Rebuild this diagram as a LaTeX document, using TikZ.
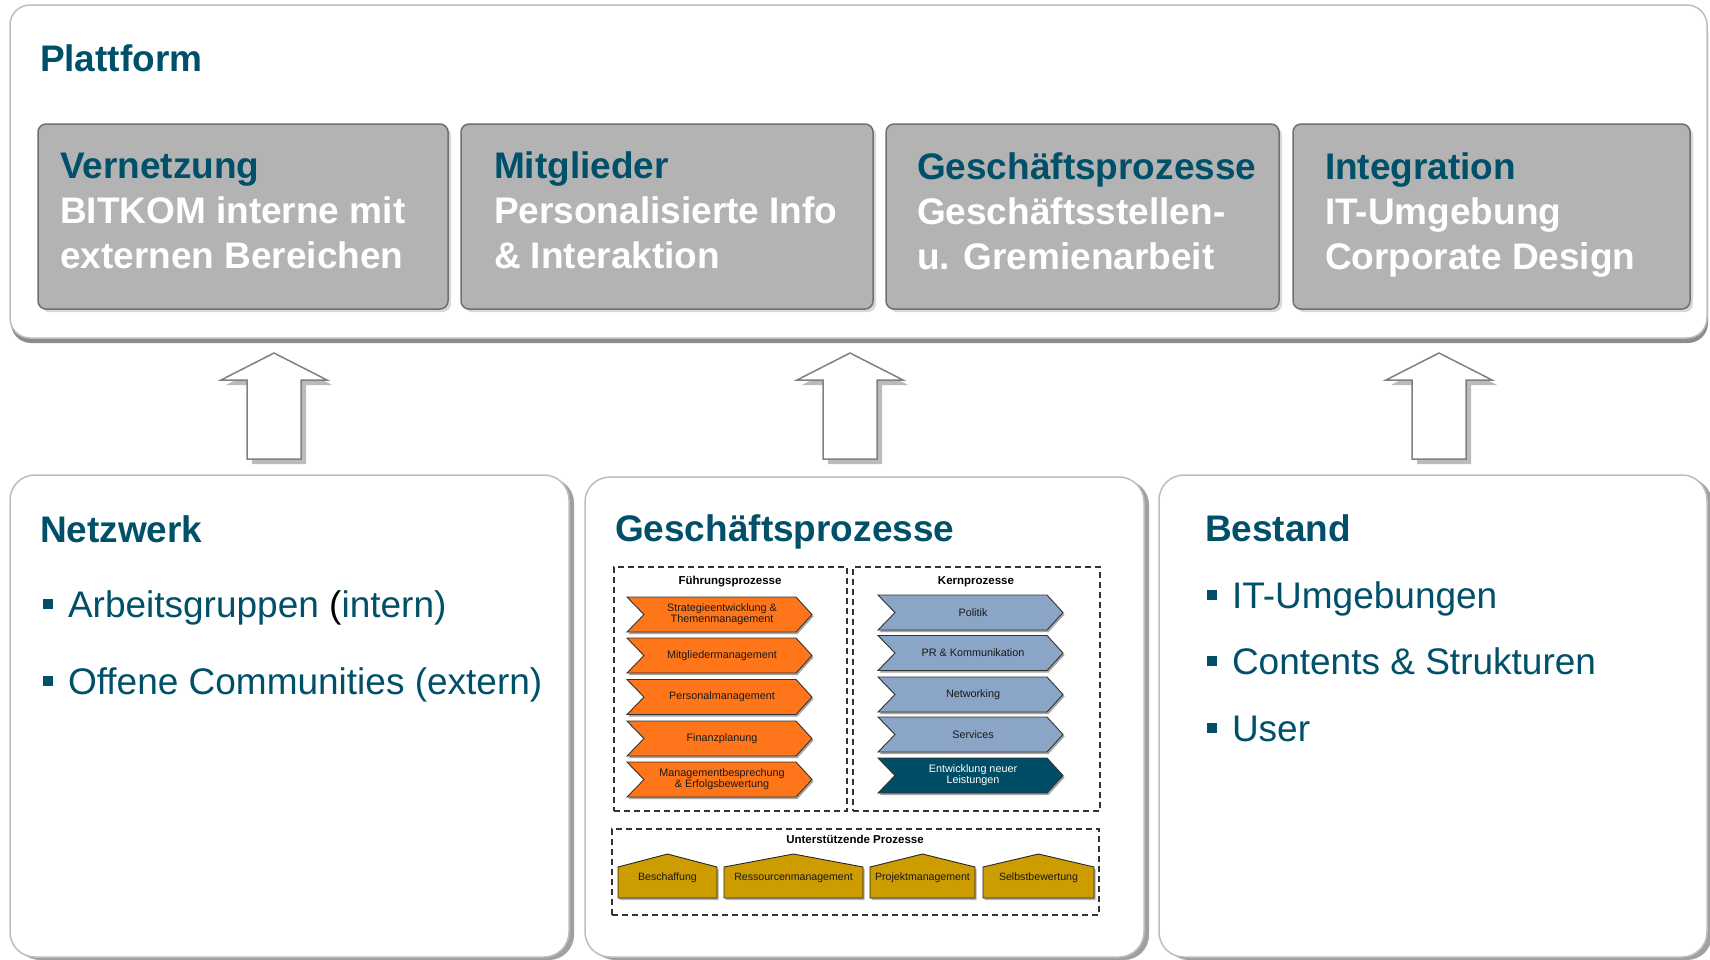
\documentclass[tikz,border=0pt]{standalone}
\usepackage{fontspec}
\setmainfont{Liberation Sans}
\usetikzlibrary{shadows}
\definecolor{tealt}{HTML}{005069}
\definecolor{orng}{HTML}{FF761A}
\definecolor{bluegr}{HTML}{8AA5C5}
\definecolor{darkteal}{HTML}{004D66}
\definecolor{goldc}{HTML}{CC9C00}
\definecolor{boxgrey}{HTML}{B3B3B3}
\definecolor{platline}{HTML}{BDBDBD}
\definecolor{platshadow}{HTML}{8C8C8C}
\definecolor{lowshadow}{HTML}{A0A0A0}
\definecolor{boxedge}{HTML}{707070}
\definecolor{boxshadow}{HTML}{D8D8D8}
\definecolor{arrline}{HTML}{808080}
\definecolor{arrshadow}{HTML}{BBBBBB}
\newcommand{\sqb}{{\color{tealt}\rule[8pt]{10pt}{10pt}}\hspace{15pt}}
\newcommand{\chev}[6]{%
  \fill[black!35] (#2+1.5,#3-15.5) -- ++(169,0) -- ++(16,17.5) -- ++(-16,17.5) -- ++(-169,0) -- ++(17,-17.5) -- cycle;
  \draw[fill=#4, draw=black!80, line width=0.9] (#2,#3-17.5) -- ++(169,0) -- ++(16,17.5) -- ++(-16,17.5) -- ++(-169,0) -- ++(17,-17.5) -- cycle;
  \node[chevtxt, text=#5] (#1) at (#2+95,#3) {#6};
}
\newcommand{\house}[4]{%
  \fill[black!30] (#2+1.5,869) -- ({(#2+#3)/2+1.5},856) -- (#3+1.5,869) -- (#3+1.5,900) -- (#2+1.5,900) -- cycle;
  \draw[fill=goldc, draw=black!85, line width=0.9] (#2,867) -- ({(#2+#3)/2},854) -- (#3,867) -- (#3,898) -- (#2,898) -- cycle;
  \node[housetxt] (#1) at ({(#2+#3)/2},878) {#4};
}
\newcommand{\uparr}[1]{%
  \fill[arrshadow] (#1+5,358) -- (#1+58,385) -- (#1+32,385) -- (#1+32,464) -- (#1-22,464) -- (#1-22,385) -- (#1-48,385) -- cycle;
  \draw[fill=white, draw=arrline, line width=1.5] (#1,353) -- (#1+53,380) -- (#1+27,380) -- (#1+27,459) -- (#1-27,459) -- (#1-27,380) -- (#1-53,380) -- cycle;
}
\begin{document}
\begin{tikzpicture}[x=1pt,y=-1pt,
  every node/.style={inner sep=0pt, outer sep=0pt},
  platform/.style={draw=platline, line width=1.5, fill=white, rounded corners=20,
    drop shadow={shadow xshift=1pt, shadow yshift=-5pt, fill=platshadow, opacity=1}},
  greybox/.style={fill=boxgrey, draw=boxedge, line width=1.5, rounded corners=8,
    drop shadow={shadow xshift=3pt, shadow yshift=-3pt, fill=boxshadow, opacity=1}},
  lowbox/.style={draw=platline, line width=1.5, fill=white, rounded corners=25,
    drop shadow={shadow xshift=5pt, shadow yshift=-3pt, fill=lowshadow, opacity=1}},
  dashbox/.style={draw=black!80, line width=1.1, dash pattern=on 6pt off 4pt},
  bigtitle/.style={font=\fontsize{37}{45}\selectfont\bfseries, text=tealt, anchor=base west},
  boxtxt/.style={font=\fontsize{37}{45}\selectfont\bfseries, text=white, align=left, anchor=base west},
  bullet/.style={font=\fontsize{37}{45}\selectfont, text=tealt, anchor=base west},
  subhead/.style={font=\fontsize{11.5}{13}\selectfont\bfseries, text=black},
  chevtxt/.style={font=\fontsize{10.8}{11}\selectfont, align=center},
  housetxt/.style={font=\fontsize{10.6}{12}\selectfont, text=black!90}
]
\useasboundingbox (0,0) rectangle (1710,959);

% platform
\node[platform, minimum width=1697, minimum height=333, anchor=north west] (plat) at (10,5) {};
\node[bigtitle] (plattitle) at (40,71) {Plattform};

\node[greybox, minimum width=410, minimum height=185, anchor=north west] (g1) at (38,124) {};
\node[greybox, minimum width=412, minimum height=185, anchor=north west] (g2) at (461,124) {};
\node[greybox, minimum width=393, minimum height=185, anchor=north west] (g3) at (886,124) {};
\node[greybox, minimum width=397, minimum height=185, anchor=north west] (g4) at (1293,124) {};

\node[boxtxt] (t1) at (60,268) {\textcolor{tealt}{Vernetzung}\\BITKOM interne mit\\externen Bereichen};
\node[boxtxt] (t2) at (494,268) {\textcolor{tealt}{Mitglieder}\\Personalisierte Info\\\& Interaktion};
\node[boxtxt] (t3) at (917,269) {\textcolor{tealt}{Geschäftsprozesse}\\Geschäftsstellen-\\u. Gremienarbeit};
\node[boxtxt] (t4) at (1325,269) {\textcolor{tealt}{Integration}\\IT-Umgebung\\Corporate Design};

% arrows
\uparr{274}
\uparr{850}
\uparr{1439}

% lower boxes
\node[lowbox, minimum width=559, minimum height=482, anchor=north west] (netz) at (10,475) {};
\node[lowbox, minimum width=559, minimum height=480, anchor=north west] (gp) at (585,477) {};
\node[lowbox, minimum width=548, minimum height=482, anchor=north west] (best) at (1159,475) {};

\node[bigtitle] (netzt) at (40,542) {Netzwerk};
\node[bullet] (n1) at (43,617) {\sqb Arbeitsgruppen {\color{black}(}intern)};
\node[bullet] (n2) at (43,694) {\sqb Offene Communities (extern)};

\node[bigtitle] (gpt) at (615,541) {Geschäftsprozesse};

\node[bigtitle] (bestt) at (1205,541) {Bestand};
\node[bullet] (b1) at (1207,608) {\sqb IT-Umgebungen};
\node[bullet] (b2) at (1207,674) {\sqb Contents \& Strukturen};
\node[bullet] (b3) at (1207,741) {\sqb User};

% process chart
\node[dashbox, minimum width=233, minimum height=244, anchor=north west] (fp) at (614,567) {};
\node[dashbox, minimum width=247, minimum height=244, anchor=north west] (kp) at (853,567) {};
\node[dashbox, minimum width=487, minimum height=86, anchor=north west] (up) at (612,829) {};
\node[subhead] (fph) at (730,582) {Führungsprozesse};
\node[subhead] (kph) at (976,582) {Kernprozesse};
\node[subhead] (uph) at (855,839) {Unterstützende Prozesse};

\chev{o1}{627}{614.5}{orng}{black!90}{Strategieentwicklung \&\\Themenmanagement}
\chev{o2}{627}{655.5}{orng}{black!90}{Mitgliedermanagement}
\chev{o3}{627}{697}{orng}{black!90}{Personalmanagement}
\chev{o4}{627}{738.5}{orng}{black!90}{Finanzplanung}
\chev{o5}{627}{779.5}{orng}{black!90}{Managementbesprechung\\\& Erfolgsbewertung}

\chev{k1}{878}{612.5}{bluegr}{black!90}{Politik}
\chev{k2}{878}{653}{bluegr}{black!90}{PR \& Kommunikation}
\chev{k3}{878}{694.5}{bluegr}{black!90}{Networking}
\chev{k4}{878}{734.5}{bluegr}{black!90}{Services}
\chev{k5}{878}{775.5}{darkteal}{white}{Entwicklung neuer\\Leistungen}

\house{h1}{618}{717}{Beschaffung}
\house{h2}{724}{863}{Ressourcenmanagement}
\house{h3}{870}{975}{Projektmanagement}
\house{h4}{983}{1094}{Selbstbewertung}
\end{tikzpicture}
\end{document}
